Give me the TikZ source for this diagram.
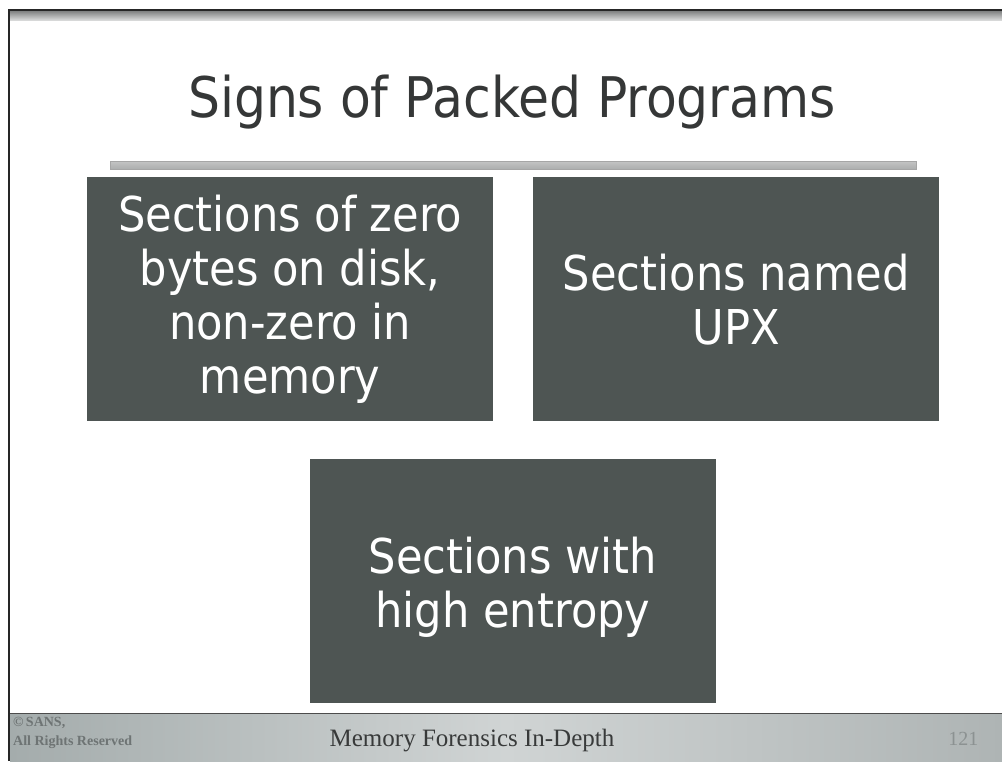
\documentclass[tikz,border=0pt]{standalone}
\usepackage{fontspec}
\setmainfont{DejaVu Sans Condensed}
\newfontfamily\footfont{Liberation Serif}
\usetikzlibrary{shadings}
\definecolor{boxgray}{HTML}{4E5553}
\definecolor{titlegray}{HTML}{353737}
\definecolor{rulegray}{HTML}{9C9E9E}
\definecolor{footA}{HTML}{A4ACAC}
\definecolor{footB}{HTML}{D0D4D4}
\definecolor{footC}{HTML}{AEB4B4}
\definecolor{foottext}{HTML}{383A3A}
\definecolor{footsmall}{HTML}{6E7474}
\definecolor{pagenum}{HTML}{8C9292}
\tikzset{
  sign/.style={fill=boxgray, draw=none, text=white, align=center,
    font=\fontsize{48}{54}\selectfont, minimum width=406pt, minimum height=244pt,
    inner sep=0pt, anchor=north west},
}
\begin{document}
\begin{tikzpicture}[x=1pt,y=-1pt]
  % page
  \useasboundingbox (0,0) rectangle (1002,761);
  \fill[white] (0,0) rectangle (1002,761);
  % top frame band
  \shade[top color=rulegray!70!black, bottom color=rulegray!40] (8,9) rectangle (1002,20);
  \draw[line width=1.6pt, black!85] (8,10) -- (1002,10);
  % left frame line
  \draw[line width=1.8pt, black!85] (9,10) -- (9,761);
  % title
  \node[text=titlegray, font=\fontsize{56}{60}\selectfont, anchor=base] (title) at (512,117) {Signs of Packed Programs};
  % rule under the title
  \shade[top color=rulegray!60, bottom color=rulegray!110!black, draw=gray!70] (110,161) rectangle (916,169);
  % boxes
  \node[sign] (zero) at (87,177) {Sections of zero\\bytes on disk,\\non-zero in\\memory};
  \node[sign] (upx) at (533,177) {Sections named\\UPX};
  \node[sign, text depth=0pt, text height=0pt] (entropy) at (310,459) {};
  \node[text=white, align=center, font=\fontsize{48}{54}\selectfont] (entropytext) at (513,587) {Sections with\\high entropy};
  % footer band
  \shade[left color=footA, right color=footC, middle color=footB] (10,713) rectangle (1002,761);
  \draw[gray!60!black, line width=0.8pt] (10,713) -- (1002,713);
  \node[text=foottext, font=\footfont\fontsize{25}{28}\selectfont, anchor=base] (course) at (472,746) {Memory Forensics In-Depth};
  \node[text=footsmall, font=\footfont\bfseries\fontsize{14}{19}\selectfont, align=left, anchor=north west, inner sep=0pt] (copy) at (13,717) {\textcopyright\,SANS,\\All Rights Reserved};
  \node[text=pagenum, font=\footfont\fontsize{20}{22}\selectfont, anchor=base east] (page) at (982,745) {121};
\end{tikzpicture}
\end{document}
